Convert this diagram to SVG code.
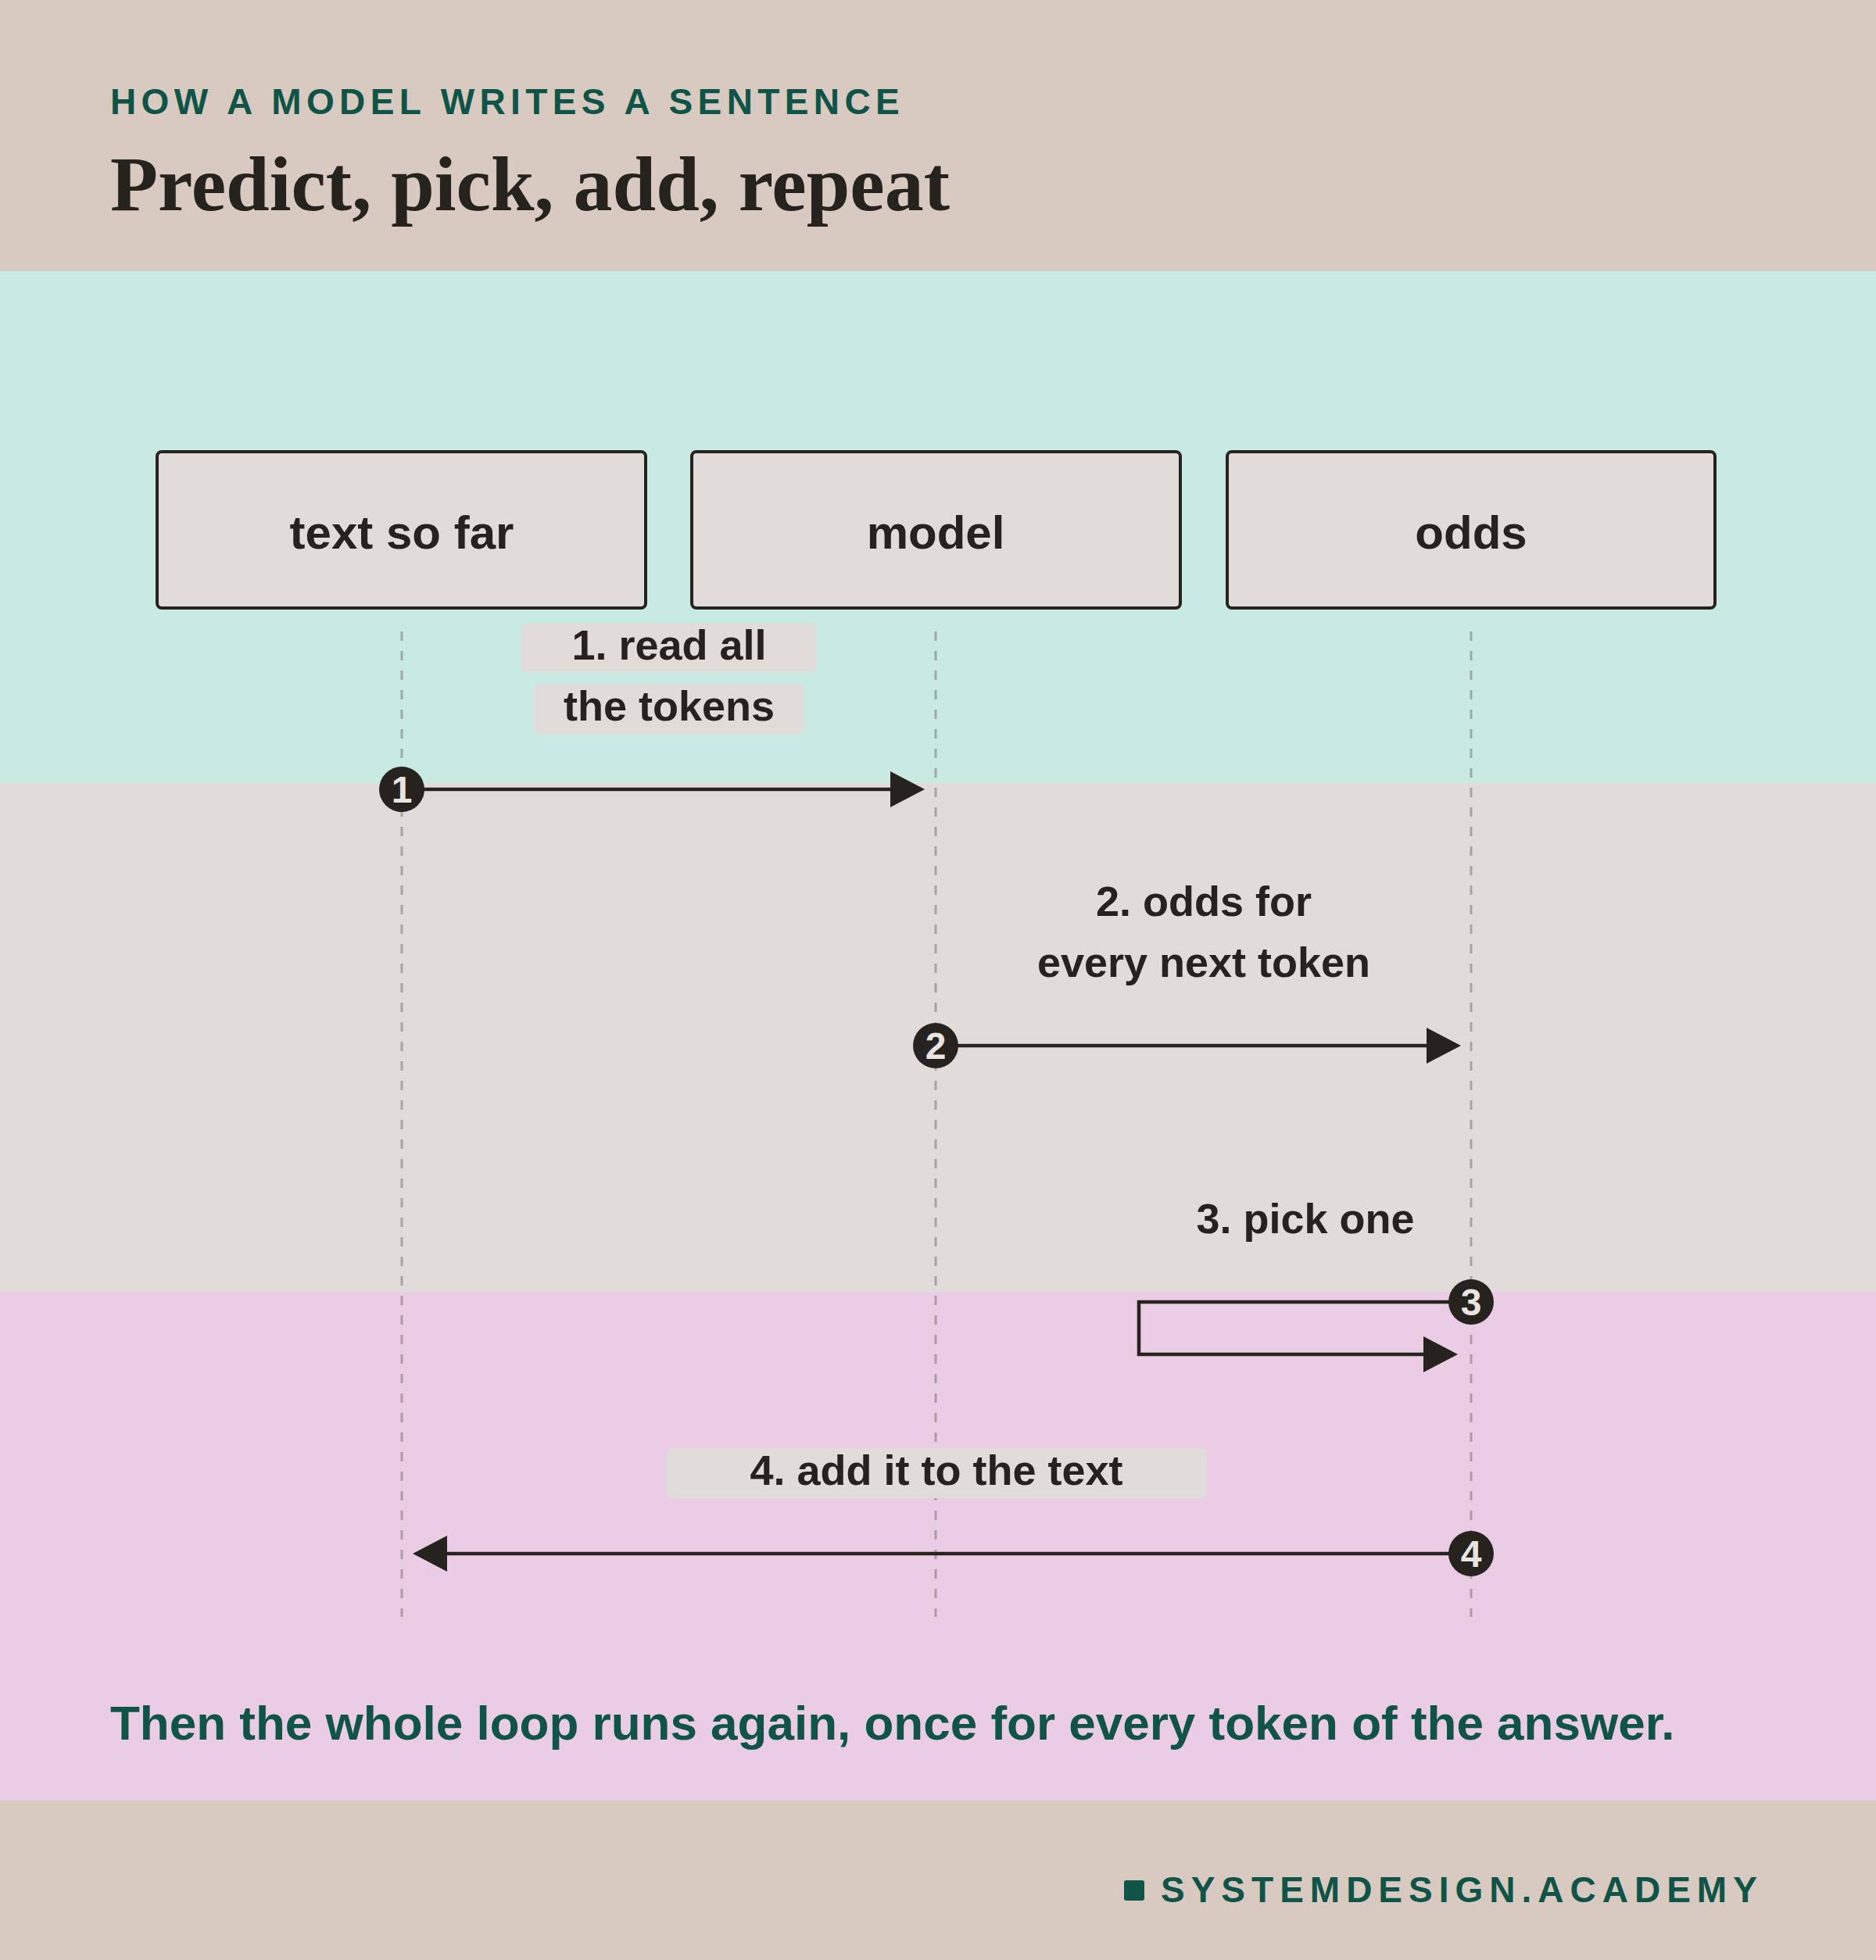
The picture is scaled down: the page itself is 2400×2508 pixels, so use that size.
<svg xmlns="http://www.w3.org/2000/svg" width="2400" height="2508" viewBox="0 0 2400 2508">
<style>
.sans{font-family:"Liberation Sans",Arial,sans-serif;font-weight:bold}
.box{fill:#e0dcd9;stroke:#26221e;stroke-width:4}
.lbl{font-size:60px;fill:#26221e;text-anchor:middle}
.msg{font-size:54px;fill:#26221e;text-anchor:middle}
.pill{fill:#e0dcd9}
.life{stroke:#6b6b6b;stroke-opacity:0.5;stroke-width:3;stroke-dasharray:12 13;fill:none}
.conn{stroke:#26221e;stroke-width:4.5;fill:none}
.badge{fill:#26221e}
.num{font-size:48px;fill:#e8e4e1;text-anchor:middle}
.green{fill:#0f5447}
</style>
<defs>
<marker id="arr" markerUnits="userSpaceOnUse" markerWidth="44" markerHeight="46" viewBox="0 0 44 46" refX="24" refY="23" orient="auto">
<path d="M0,0 L44,23 L0,46 Z" fill="#26221e"/>
</marker>
</defs>
<g id="bands">
<rect x="0" y="0" width="2400" height="347" fill="#d8cac0"/>
<rect x="0" y="347" width="2400" height="655" fill="#c9e9e3"/>
<rect x="0" y="1002" width="2400" height="651" fill="#e0dcd9"/>
<rect x="0" y="1653" width="2400" height="651" fill="#eacde5"/>
<rect x="0" y="2304" width="2400" height="204" fill="#d8cac0"/>
</g>
<g id="header">
<text class="sans green" x="141" y="146" font-size="46" letter-spacing="6.4">HOW A MODEL WRITES A SENTENCE</text>
<text x="141" y="269" font-family="'Liberation Serif','Times New Roman',serif" font-weight="bold" font-size="100" fill="#26221e">Predict, pick, add, repeat</text>
</g>
<g id="lifelines">
<line class="life" x1="514" y1="808" x2="514" y2="2069"/>
<line class="life" x1="1197" y1="808" x2="1197" y2="2069"/>
<line class="life" x1="1882" y1="808" x2="1882" y2="2069"/>
</g>
<g id="node-text-so-far">
<rect class="box" x="201" y="578" width="625" height="200" rx="6"/>
<text class="sans lbl" x="514" y="702">text so far</text>
</g>
<g id="node-model">
<rect class="box" x="885" y="578" width="625" height="200" rx="6"/>
<text class="sans lbl" x="1197" y="702">model</text>
</g>
<g id="node-odds">
<rect class="box" x="1570" y="578" width="624" height="200" rx="6"/>
<text class="sans lbl" x="1882" y="702">odds</text>
</g>
<g id="connectors">
<line class="conn" x1="514" y1="1010" x2="1163" y2="1010" marker-end="url(#arr)"/>
<line class="conn" x1="1197" y1="1338" x2="1849" y2="1338" marker-end="url(#arr)"/>
<path class="conn" d="M1882,1666 H1457 V1733 H1845" marker-end="url(#arr)"/>
<line class="conn" x1="1882" y1="1988" x2="548" y2="1988" marker-end="url(#arr)"/>
</g>
<g id="labels">
<rect class="pill" x="667" y="798" width="378" height="63" rx="8"/>
<text class="sans msg" x="856" y="844">1. read all</text>
<rect class="pill" x="683" y="875" width="346" height="64" rx="8"/>
<text class="sans msg" x="856" y="922">the tokens</text>
<text class="sans msg" x="1540" y="1172">2. odds for</text>
<text class="sans msg" x="1540" y="1250">every next token</text>
<text class="sans msg" x="1670" y="1578">3. pick one</text>
<rect class="pill" x="853" y="1853" width="691" height="64" rx="8"/>
<text class="sans msg" x="1198" y="1900">4. add it to the text</text>
</g>
<g id="badges">
<circle class="badge" cx="514" cy="1010" r="29"/>
<text class="sans num" x="514" y="1027">1</text>
<circle class="badge" cx="1197" cy="1338" r="29"/>
<text class="sans num" x="1197" y="1355">2</text>
<circle class="badge" cx="1882" cy="1666" r="29"/>
<text class="sans num" x="1882" y="1683">3</text>
<circle class="badge" cx="1882" cy="1988" r="29"/>
<text class="sans num" x="1882" y="2005">4</text>
</g>
<g id="footer">
<text class="sans green" x="141" y="2226" font-size="62">Then the whole loop runs again, once for every token of the answer.</text>
<rect class="green" x="1438" y="2406" width="26" height="26" rx="3"/>
<text class="sans green" x="1485" y="2434" font-size="46" letter-spacing="8">SYSTEMDESIGN.ACADEMY</text>
</g>
</svg>
